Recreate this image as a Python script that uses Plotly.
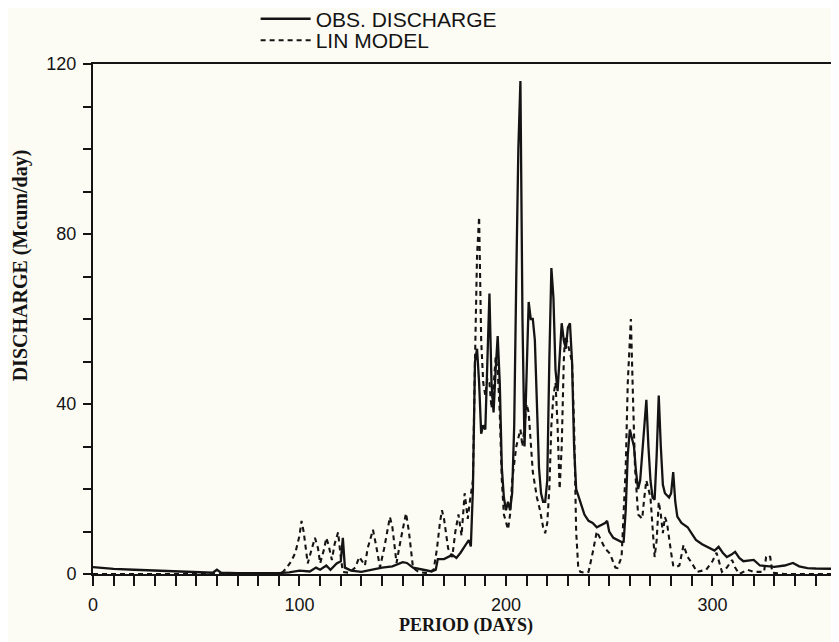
import plotly.graph_objects as go

# Observed discharge (solid)
obs_days = [0, 10, 20, 30, 40, 50, 58, 60, 62, 70, 80, 90, 95, 100, 105, 108, 110, 113, 115, 118, 120, 121, 122, 125,
            130, 135, 140, 145, 150, 152, 155, 160, 164, 166, 167, 170, 174, 176, 178, 180, 182, 183, 184, 185, 186,
            187, 188, 189, 190, 191, 192, 193, 194, 195, 196, 197, 198, 199, 200, 201, 202, 203, 204, 205, 206, 207,
            208, 209, 210, 211, 212, 213, 214, 215, 216, 217, 218, 219, 220, 221, 222, 223, 224, 225, 226, 227, 228,
            229, 230, 231, 232, 233, 234, 236, 238, 240, 242, 244, 246, 248, 249, 250, 252, 254, 256, 257, 258, 259,
            260, 261, 262, 263, 264, 265, 266, 267, 268, 269, 270, 271, 272, 273, 274, 275, 276, 277, 279, 280, 281,
            282, 283, 285, 288, 290, 292, 295, 297, 299, 301, 303, 305, 307, 309, 311, 313, 315, 318, 320, 323, 326,
            330, 335, 339, 342, 346, 350, 355, 361]
obs_vals = [1.6, 1.2, 1.0, 0.8, 0.6, 0.4, 0.3, 1.0, 0.3, 0.2, 0.2, 0.2, 0.4, 0.8, 0.6, 1.5, 1.0, 2.0, 1.0, 2.5, 3.0, 8.5, 1.5, 0.8,
            0.5, 1.0, 1.5, 1.8, 2.8, 2.6, 1.5, 1.0, 0.6, 1.0, 3.5, 3.5, 4.5, 3.8, 5.0, 6.5, 8.0, 6.5, 20, 50, 53,
            45, 33, 35, 34, 50, 66, 45, 38, 48, 56, 45, 25, 18, 15, 17, 15, 19, 35, 70, 100, 116,
            60, 30, 45, 64, 60, 60, 55, 38, 25, 19, 17, 17, 22, 50, 72, 65, 48, 43, 50, 59, 55,
            53, 58, 59, 50, 30, 20, 17, 14, 12.5, 12, 11, 11.5, 12, 12.5, 10, 8.5, 8, 7.5, 7.6, 15, 28,
            34, 32, 30, 24, 20, 22, 28, 36, 41, 30, 22, 18, 17.5, 28, 42, 30, 21, 19, 18, 19, 24,
            17, 13.5, 12, 11, 9.5, 8, 7, 6.5, 6, 5.5, 6.4, 5, 4, 4.5, 5.2, 3.8, 3, 3.2, 3.3, 2, 1.8,
            1.7, 2, 2.6, 1.8, 1.4, 1.3, 1.2, 1.2]

# Linear model (dashed)
lin_days = [0, 90, 92, 94, 96, 98, 100, 101, 102, 104, 106, 107.5, 109, 110, 112, 113, 114, 115.7, 117, 118.7, 120,
            121, 124, 127, 129, 131.7, 133, 135.6, 137, 139, 141, 143.8, 145, 147, 149, 151.6, 153, 155, 158, 162,
            165, 166.6, 168, 169, 170, 172, 174, 175.5, 177, 178.5, 180, 181.5, 182.5, 184, 185, 186, 187, 188, 189,
            190, 191, 192, 193, 194, 195, 196, 197, 198, 199, 200, 201, 202, 203, 205, 207, 208, 209, 210, 211, 212,
            213, 215, 216.5, 218, 219, 220, 221, 222, 223, 224, 225, 226, 227, 228, 228.6, 229.5, 231, 232, 233, 234,
            235, 236, 238, 240, 242, 244, 246, 248, 250, 251, 253, 254, 256, 258, 259, 260.5, 261.5, 262.5, 264, 266,
            267, 268, 270, 271, 272, 273, 274, 275, 276, 277, 278, 280, 281, 282, 284, 286, 288, 290, 292.5, 297,
            300, 302, 304.6, 307, 309.5, 311, 313, 317, 320, 325, 326, 327, 328, 329, 335, 361]
lin_vals = [0, 0, 0.5, 1.6, 3, 5, 9, 12.5, 10, 2.5, 6, 8.5, 6, 2.5, 6, 8.5, 7, 3.3, 7, 9.8, 4,
            0.5, 0.3, 1.5, 4, 2, 6, 10.4, 7, 1.6, 6, 13.4, 11, 2.6, 8, 14.3, 10, 1.4, 0.4, 0.2,
            1, 6, 12, 15, 13, 6, 4, 10, 14, 9, 19, 13, 17, 22, 50, 75, 84, 55, 45,
            42, 46, 45, 39, 44, 51, 48, 38, 22, 14, 12, 10.5, 14, 22, 30, 34, 30, 36, 40, 38, 32,
            24, 18, 15, 11, 9.6, 12, 20, 35, 42, 45, 35, 20, 30, 50, 56, 55, 52, 50, 35, 10,
            1.6, 0.5, 0.3, 0.5, 5, 10, 8, 6, 5, 4, 1.5, 1.4, 4, 25, 45, 60, 42, 25, 14, 13,
            18, 22, 18, 12, 4, 8, 17, 14, 9.6, 13.4, 12, 5, 2, 1.6, 2, 6.8, 4, 2.6, 0.5, 1,
            3, 5, 0.5, 1.5, 3.3, 1.5, 0, 1, 0.5, 0.5, 4, 4.5, 4, 0.3, 0, 0]

x_tickvals = [0, 100, 200, 300]
y_tickvals = [0, 40, 80, 120]

ink = "#141414"
paper = "#fdfcf4"
sans = "Liberation Sans, Arial, sans-serif"
serif = "Liberation Serif, Times New Roman, serif"

fig = go.Figure()
fig.add_trace(go.Scatter(x=obs_days, y=obs_vals, mode="lines", name="OBS. DISCHARGE",
                         line=dict(color=ink, width=2.3), legend="legend"))
fig.add_trace(go.Scatter(x=lin_days, y=lin_vals, mode="lines", name="LIN MODEL",
                         line=dict(color=ink, width=2.1, dash="5px,4px"), legend="legend2"))

leg_common = dict(xanchor="left", yanchor="middle", xref="paper", yref="paper",
                  bgcolor="rgba(0,0,0,0)", borderwidth=0, itemwidth=50,
                  font=dict(family=sans, size=21, color=ink))

fig.update_layout(
    width=831, height=634,
    margin=dict(l=85, r=0, t=56, b=68, autoexpand=False),
    paper_bgcolor=paper, plot_bgcolor=paper,
    showlegend=True,
    legend=dict(x=0.218, y=1.088, **leg_common),
    legend2=dict(x=0.218, y=1.046, **leg_common),
    xaxis=dict(range=[0, 361.3], tickmode="array", tickvals=x_tickvals,
               ticktext=[str(v) for v in x_tickvals], automargin=False,
               ticks="outside", ticklen=10, tickwidth=2, tickcolor=ink,
               minor=dict(dtick=10, tick0=0, ticks="outside", ticklen=10, tickwidth=2, tickcolor=ink),
               showline=True, linewidth=2, linecolor=ink, mirror=True,
               showgrid=False, zeroline=False, ticklabelstandoff=3,
               tickfont=dict(family=sans, size=18, color=ink),
               title=dict(text="PERIOD (DAYS)", font=dict(family=serif, size=18, color=ink, weight="bold"),
                          standoff=5)),
    yaxis=dict(range=[0, 120], tickmode="array", tickvals=y_tickvals,
               ticktext=[str(v) for v in y_tickvals], automargin=False,
               ticks="outside", ticklen=8, tickwidth=2, tickcolor=ink,
               minor=dict(dtick=10, tick0=0, ticks="outside", ticklen=8, tickwidth=2, tickcolor=ink),
               showline=True, linewidth=2, linecolor=ink,
               showgrid=False, zeroline=False, ticklabelstandoff=3,
               tickfont=dict(family=sans, size=18, color=ink)),
    annotations=[dict(text="DISCHARGE (Mcum/day)", textangle=-90, showarrow=False,
                      xref="paper", yref="paper", x=-0.096, y=0.606,
                      xanchor="center", yanchor="middle",
                      font=dict(family=serif, size=20, color=ink, weight="bold"))],
)

fig.write_html("out.html")
